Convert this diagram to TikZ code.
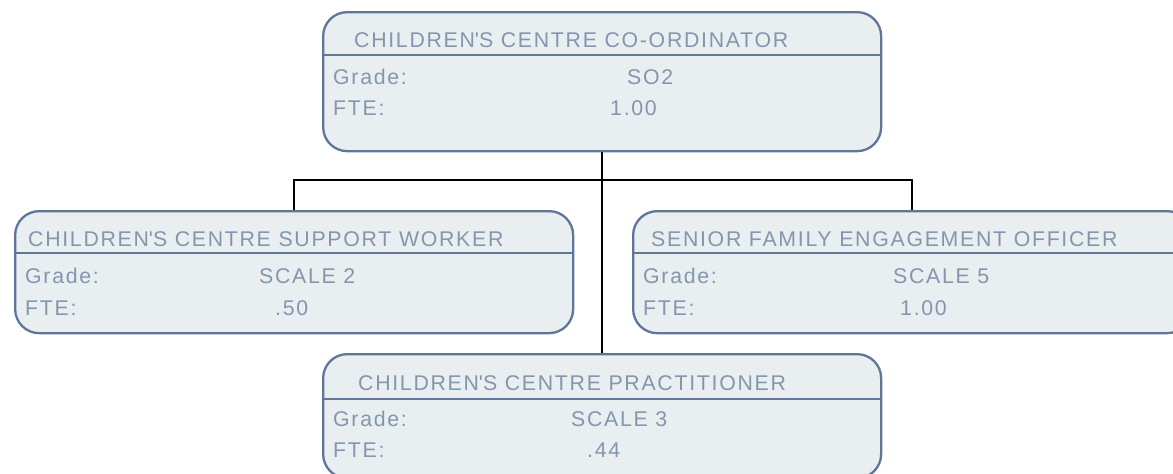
\documentclass[tikz,border=0pt]{standalone}
\usepackage{fontspec}
\setmainfont{Liberation Sans}[LetterSpace=8]
\definecolor{bordc}{HTML}{5F7699}
\definecolor{fillc}{HTML}{E9EEF1}
\definecolor{txtc}{HTML}{8496AE}
\newcommand{\apos}{\textquotesingle}
\begin{document}
\begin{tikzpicture}[x=1pt,y=-1pt,
  box/.style={draw=bordc, fill=fillc, line width=2.3pt, rounded corners=24pt, anchor=north west, inner sep=0pt, minimum width=558pt},
  divider/.style={draw=bordc, line width=2.3pt},
  txt/.style={anchor=base west, inner sep=0pt, text=txtc, font=\fontsize{21.3}{25}\selectfont},
  conn/.style={line width=2.6pt, draw=black}]
\useasboundingbox (0,0) rectangle (1173,474);

% boxes
\node[box, minimum height=139pt] (top) at (322,11) {};
\node[box, minimum height=122pt] (left) at (14,210) {};
\node[box, minimum height=122pt] (right) at (632,210) {};
\node[box, minimum height=124pt] (pract) at (322,353) {};

% dividers
\draw[divider] (top.west |- 0,55) -- (top.east |- 0,55);
\draw[divider] (left.west |- 0,253) -- (left.east |- 0,253);
\draw[divider] (right.west |- 0,253) -- (right.east |- 0,253);
\draw[divider] (pract.west |- 0,399) -- (pract.east |- 0,399);

% connectors
\draw[conn] (top.south) -- (pract.north);
\draw[conn] (left.north) -- ++(0,-30) -| (right.north);

% texts: top
\node[txt] (topH) at (354,47) {CHILDREN\apos S CENTRE CO-ORDINATOR};
\node[txt] (topG) at (333,84) {Grade:};
\node[txt] (topGv) at (627,84) {SO2};
\node[txt] (topF) at (333,115) {FTE:};
\node[txt] (topFv) at (610,115) {1.00};

% left
\node[txt] (leftH) at (28,246) {CHILDREN\apos S CENTRE SUPPORT WORKER};
\node[txt] (leftG) at (25,283) {Grade:};
\node[txt] (leftGv) at (259,283) {SCALE 2};
\node[txt] (leftF) at (25,315) {FTE:};
\node[txt] (leftFv) at (275,315) {.50};

% right
\node[txt] (rightH) at (651,246) {SENIOR FAMILY ENGAGEMENT OFFICER};
\node[txt] (rightG) at (643,283) {Grade:};
\node[txt] (rightGv) at (893,283) {SCALE 5};
\node[txt] (rightF) at (643,315) {FTE:};
\node[txt] (rightFv) at (900,315) {1.00};

% bottom
\node[txt] (practH) at (358,390) {CHILDREN\apos S CENTRE PRACTITIONER};
\node[txt] (practG) at (333,426) {Grade:};
\node[txt] (practGv) at (571,426) {SCALE 3};
\node[txt] (practF) at (333,457) {FTE:};
\node[txt] (practFv) at (587,457) {.44};
\end{tikzpicture}
\end{document}
